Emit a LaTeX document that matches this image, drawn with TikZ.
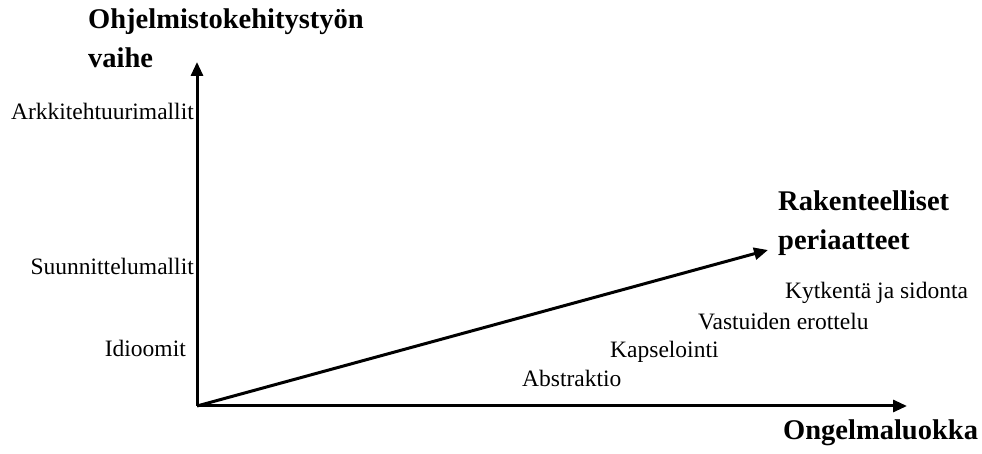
\documentclass[tikz,border=0pt]{standalone}
\usepackage{fontspec}
\setmainfont{Liberation Serif}
\usetikzlibrary{arrows.meta}

\begin{document}
\begin{tikzpicture}[x=1pt, y=1pt,
  axis/.style={-{Triangle[length=14pt, width=12pt]}, line width=3pt, black},
  level/.style={inner sep=0pt, font=\fontsize{23.5}{27}\selectfont},
  title/.style={anchor=base west, inner sep=0pt, align=left, font=\fontsize{28.5}{39}\selectfont\bfseries}]
\useasboundingbox (0,0) rectangle (982,454);
\coordinate (O) at (197,48);
\coordinate (YEnd) at (197,392);
\coordinate (XEnd) at (907,48);
\coordinate (PEnd) at (768,204);

% axes
\draw[axis] (O) -- (YEnd);
\draw[axis] (O) -- (XEnd);
\draw[axis] (O) -- (PEnd);

% axis titles (base = last line)
\node[title] (phase) at (88,386) {Ohjelmistokehitystyön\\vaihe};
\node[title] (principles) at (778,204) {Rakenteelliset\\periaatteet};
\node[title] (problem) at (783,14) {Ongelmaluokka};

% levels on the vertical axis
\node[level, anchor=base east] (arch) at (194,334) {Arkkitehtuurimallit};
\node[level, anchor=base east] (design) at (194,179) {Suunnittelumallit};
\node[level, anchor=base east] (idiom) at (186,97) {Idioomit};

% levels along the diagonal
\node[level, anchor=base west] (abstr) at (522,67) {Abstraktio};
\node[level, anchor=base west] (encap) at (610,96) {Kapselointi};
\node[level, anchor=base west] (separ) at (698,124) {Vastuiden erottelu};
\node[level, anchor=base west] (coupl) at (785,155) {Kytkentä ja sidonta};
\end{tikzpicture}
\end{document}
